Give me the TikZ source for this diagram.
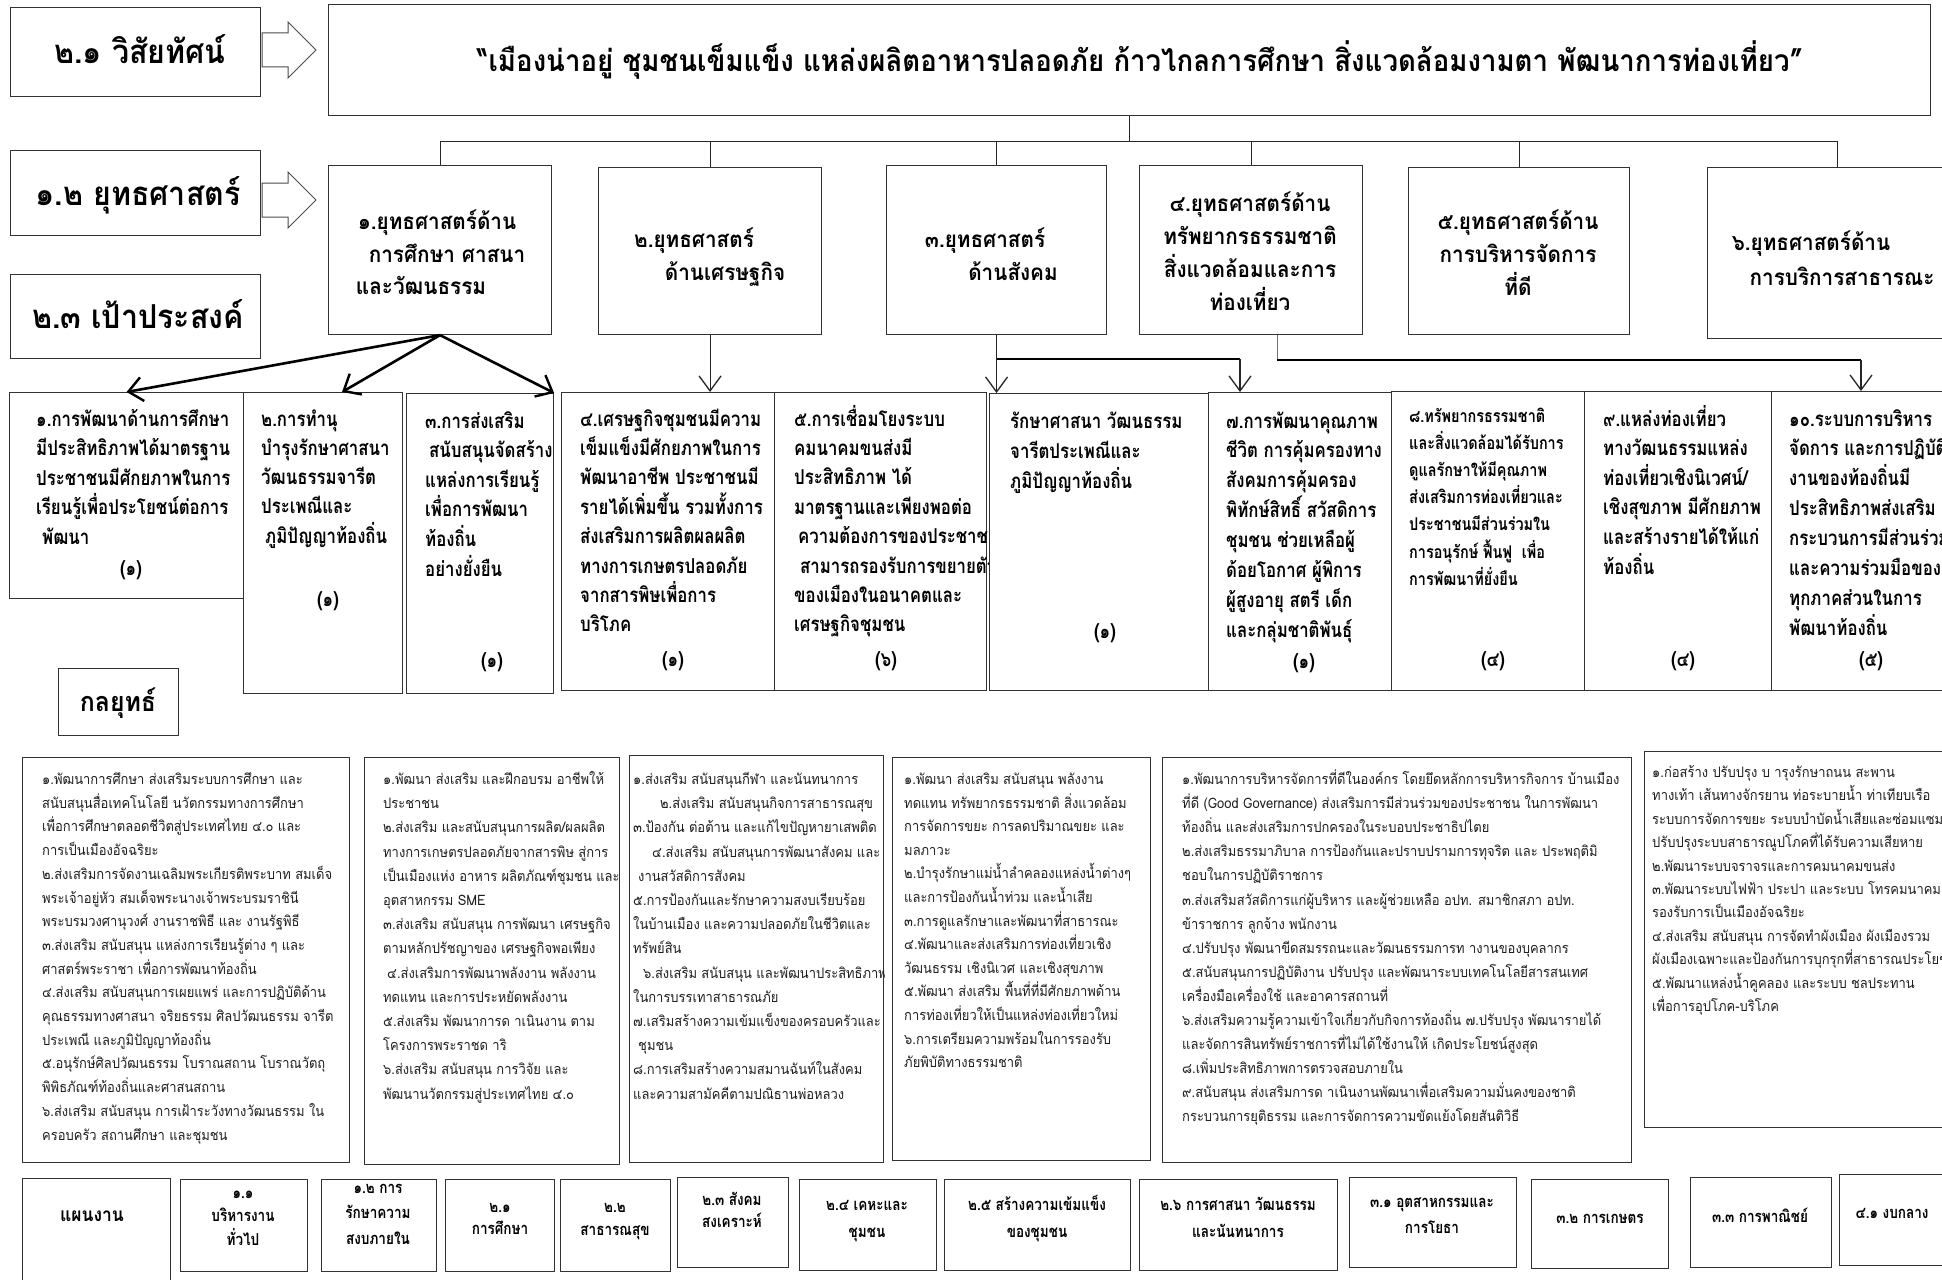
\documentclass[tikz,border=0pt]{standalone}
\usepackage{fontspec}
\setmainfont[Script=Thai]{Loma}
\newfontfamily\cf[Script=Thai,FakeStretch=0.82]{Loma}
\newfontfamily\cfw[Script=Thai,FakeStretch=0.92]{Loma}
\newfontfamily\smf[Script=Thai,FakeStretch=0.9]{Loma}
\usetikzlibrary{arrows.meta,calc}
\tikzset{
 bx/.style={draw=black!80,line width=1.1pt,fill=white,inner sep=0pt,anchor=north west},
 ln/.style={draw=black!85,line width=1.1pt},
 arr/.style={ln,-{Straight Barb[length=15pt,width=22pt,line width=1.3pt]}},
 tarr/.style={draw=black,line width=2.6pt,-{Straight Barb[length=14pt,width=24pt,line width=2.4pt]}},
 tline/.style={draw=black,line width=2.6pt},
 sm/.style={anchor=base west,inner sep=0pt,font=\smf\fontsize{14.4}{17}\selectfont,text=black!88},
 ob/.style={anchor=base west,inner sep=0pt,font=\cf\bfseries\fontsize{20.5}{24}\selectfont},
 obc/.style={ob,anchor=base},
 oe/.style={ob,font=\cf\bfseries\fontsize{17.6}{22}\selectfont},
 sh/.style={anchor=base,inner sep=0pt,font=\cfw\bfseries\fontsize{22.5}{27}\selectfont},
 hd/.style={anchor=base,inner sep=0pt,font=\cfw\bfseries\fontsize{33}{38}\selectfont},
 vs/.style={anchor=base,inner sep=0pt,font=\cfw\bfseries\fontsize{30}{35}\selectfont},
 pl/.style={anchor=base,inner sep=0pt,font=\cf\bfseries\fontsize{16.5}{19}\selectfont},
 blk/.style={draw=black!70,line width=1pt,fill=white},
}
\newcommand\BX[5]{\node[bx,minimum width={(#4-#2)*1pt},minimum height={(#5-#3)*1pt}] (#1) at (#2,#3) {};}
\newcommand\TL[6]{\foreach \tx [count=\ii from 0] in {#6}{\node[#2] (#1\ii) at (#3,{#4+\ii*#5}) {\tx};}}
\begin{document}
\begin{tikzpicture}[x=1pt,y=-1pt]
\useasboundingbox (0,0) rectangle (1942,1279);
\clip (0,0) rectangle (1942,1279);
\fill[white] (0,0) rectangle (1942,1279);
% ---------- headers
\BX{B21}{10}{7}{260}{96}
\node[hd] (tB21) at (140,64) {๒.๑ วิสัยทัศน์};
\BX{B12}{10}{150}{260}{235}
\node[hd] (tB12) at (138,205) {๑.๒ ยุทธศาสตร์};
\BX{B23}{10}{274}{260}{358}
\node[hd] (tB23) at (138,328) {๒.๓ เป้าประสงค์};
\draw[blk] (262,33) -- (288,33) -- (288,22) -- (316,50) -- (288,78) -- (288,67) -- (262,67) -- cycle;
\draw[blk] (262,183) -- (288,183) -- (288,172) -- (316,200) -- (288,228) -- (288,217) -- (262,217) -- cycle;
% ---------- vision
\BX{vis}{328}{4}{1930}{115}
\node[vs] (tvis) at (1140,72) {“เมืองน่าอยู่ ชุมชนเข็มแข็ง แหล่งผลิตอาหารปลอดภัย ก้าวไกลการศึกษา สิ่งแวดล้อมงามตา พัฒนาการท่องเที่ยว”};
% ---------- strategies
\BX{S1}{328}{165}{551}{334}
\BX{S2}{598}{167}{821}{334}
\BX{S3}{886}{165}{1106}{334}
\BX{S4}{1139}{165}{1362}{334}
\BX{S5}{1408}{167}{1629}{334}
\BX{S6}{1707}{167}{1967}{338}
\node[sh] (s1a) at (437,229) {๑.ยุทธศาสตร์ด้าน};
\node[sh] (s1b) at (447,262) {การศึกษา ศาสนา};
\node[sh] (s1c) at (421,294) {และวัฒนธรรม};
\node[sh] (s2a) at (694,247) {๒.ยุทธศาสตร์};
\node[sh] (s2b) at (725,280) {ด้านเศรษฐกิจ};
\node[sh] (s3a) at (985,247) {๓.ยุทธศาสตร์};
\node[sh] (s3b) at (1013,280) {ด้านสังคม};
\TL{s4l}{sh}{1250}{211}{33}{{๔.ยุทธศาสตร์ด้าน},{ทรัพยากรธรรมชาติ},{สิ่งแวดล้อมและการ},{ท่องเที่ยว}}
\TL{s5l}{sh}{1518}{229}{33}{{๕.ยุทธศาสตร์ด้าน},{การบริหารจัดการ},{ที่ดี}}
\node[sh] (s6a) at (1811,250) {๖.ยุทธศาสตร์ด้าน};
\node[sh] (s6b) at (1842,285) {การบริการสาธารณะ};
% bus
\coordinate (bus) at ($(vis.south)+(0,25)$);
\draw[ln] (vis.south) -- (bus);
\foreach \s in {S1,S2,S3,S4,S5,S6} {\draw[ln] (\s.north) |- (bus);}
% ---------- objectives
\BX{O1}{9}{392}{243}{598}
\TL{o1l}{ob}{36}{426}{29.5}{{๑.การพัฒนาด้านการศึกษา},{มีประสิทธิภาพได้มาตรฐาน},{ประชาชนมีศักยภาพในการ},{เรียนรู้เพื่อประโยชน์ต่อการ},{\hspace*{6pt}พัฒนา}}
\node[obc] (o1n) at (131,575) {(๑)};
\BX{O2}{243}{392}{402}{693}
\TL{o2l}{ob}{261}{426}{29.3}{{๒.การทำนุ},{บำรุงรักษาศาสนา},{วัฒนธรรมจารีต},{ประเพณีและ},{\hspace*{4pt}ภูมิปัญญาท้องถิ่น}}
\node[obc] (o2n) at (328,606) {(๑)};
\BX{O3}{406}{393}{553}{693}
\TL{o3l}{ob}{425}{428}{29.6}{{๓.การส่งเสริม},{\hspace*{4pt}สนับสนุนจัดสร้าง},{แหล่งการเรียนรู้},{เพื่อการพัฒนา},{ท้องถิ่น},{อย่างยั่งยืน}}
\node[obc] (o3n) at (492,667) {(๑)};
\BX{O4}{561}{392}{774}{690}
\TL{o4l}{ob}{580}{426}{29.4}{{๔.เศรษฐกิจชุมชนมีความ},{เข็มแข็งมีศักยภาพในการ},{พัฒนาอาชีพ ประชาชนมี},{รายได้เพิ่มขึ้น รวมทั้งการ},{ส่งเสริมการผลิตผลผลิต},{ทางการเกษตรปลอดภัย},{จากสารพิษเพื่อการ},{บริโภค}}
\node[obc] (o4n) at (673,666) {(๑)};
\BX{O5}{774}{392}{986}{690}
\TL{o5l}{ob}{794}{426}{29.4}{{๕.การเชื่อมโยงระบบ},{คมนาคมขนส่งมี},{ประสิทธิภาพ ได้},{มาตรฐานและเพียงพอต่อ},{\hspace*{4pt}ความต้องการของประชาชน},{\hspace*{6pt}สามารถรองรับการขยายตัว},{ของเมืองในอนาคตและ},{เศรษฐกิจชุมชน}}
\node[obc] (o5n) at (886,666) {(๖)};
\BX{O6}{989}{393}{1208}{690}
\TL{o6l}{ob}{1010}{428}{30}{{รักษาศาสนา วัฒนธรรม},{จารีตประเพณีและ},{ภูมิปัญญาท้องถิ่น}}
\node[obc] (o6n) at (1105,638) {(๑)};
\BX{O7}{1208}{392}{1391}{690}
\TL{o7l}{ob}{1226}{428}{29.9}{{๗.การพัฒนาคุณภาพ},{ชีวิต การคุ้มครองทาง},{สังคมการคุ้มครอง},{พิทักษ์สิทธิ์ สวัสดิการ},{ชุมชน ช่วยเหลือผู้},{ด้อยโอกาศ ผู้พิการ},{ผู้สูงอายุ สตรี เด็ก},{และกลุ่มชาติพันธุ์}}
\node[obc] (o7n) at (1304,668) {(๑)};
\BX{O8}{1391}{391}{1584}{690}
\TL{o8l}{oe}{1409}{422}{27.2}{{๘.ทรัพยากรธรรมชาติ},{และสิ่งแวดล้อมได้รับการ},{ดูแลรักษาให้มีคุณภาพ},{ส่งเสริมการท่องเที่ยวและ},{ประชาชนมีส่วนร่วมใน},{การอนุรักษ์ ฟื้นฟู\ \ เพื่อ},{การพัฒนาที่ยั่งยืน}}
\node[obc] (o8n) at (1493,666) {(๔)};
\BX{O9}{1584}{391}{1771}{690}
\TL{o9l}{ob}{1603}{426}{29.6}{{๙.แหล่งท่องเที่ยว},{ทางวัฒนธรรมแหล่ง},{ท่องเที่ยวเชิงนิเวศน์/},{เชิงสุขภาพ มีศักยภาพ},{และสร้างรายได้ให้แก่},{ท้องถิ่น}}
\node[obc] (o9n) at (1683,666) {(๔)};
\BX{O10}{1771}{391}{1967}{690}
\TL{o10l}{ob}{1789}{426}{29.9}{{๑๐.ระบบการบริหาร},{จัดการ และการปฏิบัติ},{งานของท้องถิ่นมี},{ประสิทธิภาพส่งเสริม},{กระบวนการมีส่วนร่วม},{และความร่วมมือของ},{ทุกภาคส่วนในการ},{พัฒนาท้องถิ่น}}
\node[obc] (o10n) at (1871,666) {(๕)};
% ---------- connectors strategy -> objectives
\draw[tarr] (S1.south) -- (O1.north);
\draw[tarr] (S1.south) -- ($(O2.north)+(19,0)$);
\draw[tarr] (S1.south) -- (O3.north east);
\draw[arr] (S2.south) -- (S2.south |- O4.north);
\draw[arr] (S3.south) -- (S3.south |- O6.north);
\coordinate (j3) at ($(S3.south)+(0,24)$);
\coordinate (t7) at ($(O7.north west)+(32,0)$);
\draw[tline] (j3) -- (j3 -| t7);
\draw[arr] (j3 -| t7) -- (t7);
\coordinate (s4d) at ($(S4.south)+(26,0)$);
\coordinate (j4) at ($(s4d)+(0,25)$);
\coordinate (t10) at ($(O10.north west)+(90,0)$);
\draw[draw=black!50!blue!60,line width=0.8pt] (s4d) -- (j4);
\draw[tline] (j4) -- (j4 -| t10);
\draw[arr] (j4 -| t10) -- (t10);
% ---------- กลยุทธ์
\BX{KL}{58}{668}{178}{735}
\node[hd,font=\cfw\bfseries\fontsize{27}{32}\selectfont] (tKL) at (118,711) {กลยุทธ์};
% ---------- strategy text boxes
\BX{G1}{22}{757}{349}{1162}
\begin{scope}\clip (G1.north west) rectangle (G1.south east);
\TL{g1l}{sm}{42}{784.5}{23.7}{{๑.พัฒนาการศึกษา ส่งเสริมระบบการศึกษา และ},{สนับสนุนสื่อเทคโนโลยี นวัตกรรมทางการศึกษา},{เพื่อการศึกษาตลอดชีวิตสู่ประเทศไทย ๔.๐ และ},{การเป็นเมืองอัจฉริยะ},{๒.ส่งเสริมการจัดงานเฉลิมพระเกียรติพระบาท สมเด็จ},{พระเจ้าอยู่หัว สมเด็จพระนางเจ้าพระบรมราชินี},{พระบรมวงศานุวงศ์ งานราชพิธี และ งานรัฐพิธี},{๓.ส่งเสริม สนับสนุน แหล่งการเรียนรู้ต่าง ๆ และ},{ศาสตร์พระราชา เพื่อการพัฒนาท้องถิ่น},{๔.ส่งเสริม สนับสนุนการเผยแพร่ และการปฏิบัติด้าน},{คุณธรรมทางศาสนา จริยธรรม ศิลปวัฒนธรรม จารีต},{ประเพณี และภูมิปัญญาท้องถิ่น},{๕.อนุรักษ์ศิลปวัฒนธรรม โบราณสถาน โบราณวัตถุ},{พิพิธภัณฑ์ท้องถิ่นและศาสนสถาน},{๖.ส่งเสริม สนับสนุน การเฝ้าระวังทางวัฒนธรรม ใน},{ครอบครัว สถานศึกษา และชุมชน}}
\end{scope}
\BX{G2}{364}{757}{619}{1164}
\begin{scope}\clip (G2.north west) rectangle (G2.south east);
\TL{g2l}{sm}{383}{784.5}{24.2}{{๑.พัฒนา ส่งเสริม และฝึกอบรม อาชีพให้},{ประชาชน},{๒.ส่งเสริม และสนับสนุนการผลิต/ผลผลิต},{ทางการเกษตรปลอดภัยจากสารพิษ สู่การ},{เป็นเมืองแห่ง อาหาร ผลิตภัณฑ์ชุมชน และ},{อุตสาหกรรม SME},{๓.ส่งเสริม สนับสนุน การพัฒนา เศรษฐกิจ},{ตามหลักปรัชญาของ เศรษฐกิจพอเพียง},{\hspace*{4pt}๔.ส่งเสริมการพัฒนาพลังงาน พลังงาน},{ทดแทน และการประหยัดพลังงาน},{๕.ส่งเสริม พัฒนาการด าเนินงาน ตาม},{โครงการพระราชด าริ},{๖.ส่งเสริม สนับสนุน การวิจัย และ},{พัฒนานวัตกรรมสู่ประเทศไทย ๔.๐}}
\end{scope}
\BX{G3}{629}{755}{883}{1162}
\begin{scope}\clip (G3.north west) rectangle (G3.south east);
\TL{g3l}{sm}{633}{784.5}{24.2}{{๑.ส่งเสริม สนับสนุนกีฬา และนันทนาการ},{\hspace*{27pt}๒.ส่งเสริม สนับสนุนกิจการสาธารณสุข},{๓.ป้องกัน ต่อต้าน และแก้ไขปัญหายาเสพติด},{\hspace*{19pt}๔.ส่งเสริม สนับสนุนการพัฒนาสังคม และ},{\hspace*{5pt}งานสวัสดิการสังคม},{๕.การป้องกันและรักษาความสงบเรียบร้อย},{ในบ้านเมือง และความปลอดภัยในชีวิตและ},{ทรัพย์สิน},{\hspace*{10pt}๖.ส่งเสริม สนับสนุน และพัฒนาประสิทธิภาพ},{ในการบรรเทาสาธารณภัย},{๗.เสริมสร้างความเข้มแข็งของครอบครัวและ},{\hspace*{5pt}ชุมชน},{๘.การเสริมสร้างความสมานฉันท์ในสังคม},{และความสามัคคีตามปณิธานพ่อหลวง}}
\end{scope}
\BX{G4}{892}{757}{1150}{1160}
\begin{scope}\clip (G4.north west) rectangle (G4.south east);
\TL{g4l}{sm}{904}{784.5}{23.6}{{๑.พัฒนา ส่งเสริม สนับสนุน พลังงาน},{ทดแทน ทรัพยากรธรรมชาติ สิ่งแวดล้อม},{การจัดการขยะ การลดปริมาณขยะ และ},{มลภาวะ},{๒.บำรุงรักษาแม่น้ำลำคลองแหล่งน้ำต่างๆ},{และการป้องกันน้ำท่วม และน้ำเสีย},{๓.การดูแลรักษาและพัฒนาที่สาธารณะ},{๔.พัฒนาและส่งเสริมการท่องเที่ยวเชิง},{วัฒนธรรม เชิงนิเวศ และเชิงสุขภาพ},{๕.พัฒนา ส่งเสริม พื้นที่ที่มีศักยภาพด้าน},{การท่องเที่ยวให้เป็นแหล่งท่องเที่ยวใหม่},{๖.การเตรียมความพร้อมในการรองรับ},{ภัยพิบัติทางธรรมชาติ}}
\end{scope}
\BX{G5}{1162}{757}{1631}{1162}
\begin{scope}\clip (G5.north west) rectangle (G5.south east);
\TL{g5l}{sm}{1182}{784.5}{24.1}{{๑.พัฒนาการบริหารจัดการที่ดีในองค์กร โดยยึดหลักการบริหารกิจการ บ้านเมือง},{ที่ดี (Good Governance) ส่งเสริมการมีส่วนร่วมของประชาชน ในการพัฒนา},{ท้องถิ่น และส่งเสริมการปกครองในระบอบประชาธิปไตย},{๒.ส่งเสริมธรรมาภิบาล การป้องกันและปราบปรามการทุจริต และ ประพฤติมิ},{ชอบในการปฏิบัติราชการ},{๓.ส่งเสริมสวัสดิการแก่ผู้บริหาร และผู้ช่วยเหลือ อปท. สมาชิกสภา อปท.},{ข้าราชการ ลูกจ้าง พนักงาน},{๔.ปรับปรุง พัฒนาขีดสมรรถนะและวัฒนธรรมการท างานของบุคลากร},{๕.สนับสนุนการปฏิบัติงาน ปรับปรุง และพัฒนาระบบเทคโนโลยีสารสนเทศ},{เครื่องมือเครื่องใช้ และอาคารสถานที่},{๖.ส่งเสริมความรู้ความเข้าใจเกี่ยวกับกิจการท้องถิ่น ๗.ปรับปรุง พัฒนารายได้},{และจัดการสินทรัพย์ราชการที่ไม่ได้ใช้งานให้ เกิดประโยชน์สูงสุด},{๘.เพิ่มประสิทธิภาพการตรวจสอบภายใน},{๙.สนับสนุน ส่งเสริมการด าเนินงานพัฒนาเพื่อเสริมความมั่นคงของชาติ},{กระบวนการยุติธรรม และการจัดการความขัดแย้งโดยสันติวิธี}}
\end{scope}
\BX{G6}{1644}{751}{1962}{1127}
\begin{scope}\clip (G6.north west) rectangle (G6.south east);
\TL{g6l}{sm}{1652}{777.5}{23.4}{{๑.ก่อสร้าง ปรับปรุง บ ารุงรักษาถนน สะพาน},{ทางเท้า เส้นทางจักรยาน ท่อระบายน้ำ ท่าเทียบเรือ},{ระบบการจัดการขยะ ระบบบำบัดน้ำเสียและซ่อมแซม},{ปรับปรุงระบบสาธารณูปโภคที่ได้รับความเสียหาย},{๒.พัฒนาระบบจราจรและการคมนาคมขนส่ง},{๓.พัฒนาระบบไฟฟ้า ประปา และระบบ โทรคมนาคม},{รองรับการเป็นเมืองอัจฉริยะ},{๔.ส่งเสริม สนับสนุน การจัดทำผังเมือง ผังเมืองรวม},{ผังเมืองเฉพาะและป้องกันการบุกรุกที่สาธารณประโยชน์},{๕.พัฒนาแหล่งน้ำคูคลอง และระบบ ชลประทาน},{เพื่อการอุปโภค-บริโภค}}
\end{scope}
% ---------- plans
\BX{P0}{22}{1178}{170}{1300}
\node[pl,font=\cfw\bfseries\fontsize{19}{22}\selectfont] (tP0) at (92,1221) {แผนงาน};
\BX{P1}{180}{1179}{307}{1271}
\TL{p1l}{pl}{243}{1198}{23.5}{{๑.๑},{บริหารงาน},{ทั่วไป}}
\BX{P2}{321}{1179}{436}{1271}
\TL{p2l}{pl}{378}{1193}{25.5}{{๑.๒ การ},{รักษาความ},{สงบภายใน}}
\BX{P3}{445}{1179}{554}{1271}
\TL{p3l}{pl}{500}{1212}{22}{{๒.๑},{การศึกษา}}
\BX{P4}{560}{1179}{670}{1271}
\TL{p4l}{pl}{615}{1212}{23}{{๒.๒},{สาธารณสุข}}
\BX{P5}{677}{1177}{788}{1267}
\TL{p5l}{pl}{732}{1205}{22}{{๒.๓ สังคม},{สงเคราะห์}}
\BX{P6}{799}{1179}{936}{1270}
\TL{p6l}{pl}{867}{1210}{27}{{๒.๔ เคหะและ},{ชุมชน}}
\BX{P7}{944}{1179}{1130}{1270}
\TL{p7l}{pl}{1037}{1210}{27}{{๒.๕ สร้างความเข้มแข็ง},{ของชุมชน}}
\BX{P8}{1139}{1179}{1337}{1270}
\TL{p8l}{pl}{1238}{1210}{27}{{๒.๖ การศาสนา วัฒนธรรม},{และนันทนาการ}}
\BX{P9}{1349}{1177}{1516}{1267}
\TL{p9l}{pl}{1432}{1207}{26}{{๓.๑ อุตสาหกรรมและ},{การโยธา}}
\BX{P10}{1531}{1179}{1668}{1268}
\node[pl] (tP10) at (1600,1223) {๓.๒ การเกษตร};
\BX{P11}{1690}{1177}{1831}{1267}
\node[pl] (tP11) at (1760,1222) {๓.๓ การพาณิชย์};
\BX{P12}{1839}{1174}{1990}{1265}
\node[pl] (tP12) at (1892,1218) {๔.๑ งบกลาง};
\end{tikzpicture}
\end{document}
